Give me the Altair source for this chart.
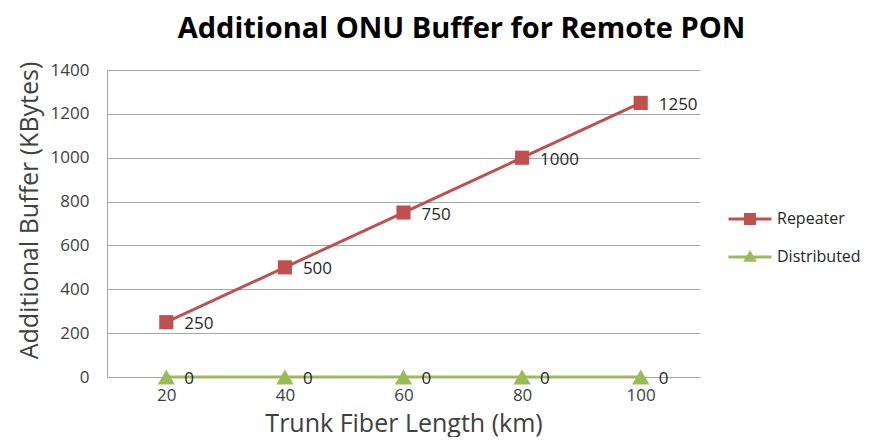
import altair as alt
import pandas as pd

lengths = [20, 40, 60, 80, 100]
repeater = [250, 500, 750, 1000, 1250]
distributed = [0, 0, 0, 0, 0]
series_names = ["Repeater", "Distributed"]
colors = ["#C0504D", "#9BBB59"]

rows = []
for L, v in zip(lengths, repeater):
    rows.append({"Length": L, "Buffer": v, "Series": "Repeater"})
for L, v in zip(lengths, distributed):
    rows.append({"Length": L, "Buffer": v, "Series": "Distributed"})
df = pd.DataFrame(rows)

FONT = "Open Sans"
x = alt.X("Length:O", sort=lengths,
          scale=alt.Scale(paddingInner=0, paddingOuter=0.5),
          axis=alt.Axis(title="Trunk Fiber Length (km)", labelAngle=0, ticks=False,
                        labelPadding=10, titlePadding=8, grid=False,
                        domainColor="#A6A6A6", labelFontSize=17, titleFontSize=25,
                        labelColor="#404040", titleColor="#404040",
                        labelFont=FONT, titleFont=FONT, titleFontWeight="normal"))
y = alt.Y("Buffer:Q", scale=alt.Scale(domain=[0, 1400], nice=False),
          axis=alt.Axis(title="Additional Buffer (KBytes)", values=list(range(0, 1401, 200)),
                        format="d", ticks=False, labelPadding=18, titlePadding=8, titleY=140,
                        gridColor="#A6A6A6", domainColor="#A6A6A6",
                        labelFontSize=17, titleFontSize=25,
                        labelColor="#404040", titleColor="#404040",
                        labelFont=FONT, titleFont=FONT, titleFontWeight="normal"))
color_nolegend = alt.Color("Series:N", scale=alt.Scale(domain=series_names, range=colors), legend=None)

base = alt.Chart(df).encode(x=x, y=y)

lines = base.mark_line(strokeWidth=3).encode(color=color_nolegend, detail="Series:N")
points = base.mark_point(filled=True, opacity=1).encode(
    color=color_nolegend,
    shape=alt.Shape("Series:N", scale=alt.Scale(domain=series_names, range=["square", "triangle-up"]), legend=None),
    size=alt.Size("Series:N", scale=alt.Scale(domain=series_names, range=[200, 300]), legend=None),
)
labels = base.mark_text(align="left", baseline="middle", dx=18, dy=2, fontSize=17,
                        font=FONT, color="#262626").encode(text="Buffer:Q")

sq_path = "M-1,-0.07 L1,-0.07 L1,0.07 L-1,0.07 Z M-0.28,-0.28 L0.28,-0.28 L0.28,0.28 L-0.28,0.28 Z"
tri_path = "M-1,-0.07 L1,-0.07 L1,0.07 L-1,0.07 Z M0,-0.32 L0.32,0.22 L-0.32,0.22 Z"
legend_layer = base.mark_point(filled=True, size=0, opacity=1).encode(
    color=alt.Color("Series:N", scale=alt.Scale(domain=series_names, range=colors),
                    legend=alt.Legend(title=None, orient="none", legendX=621, legendY=127,
                                      symbolSize=1850, symbolOpacity=1, symbolStrokeWidth=0,
                                      labelFontSize=16, labelFont=FONT, labelColor="#262626",
                                      rowPadding=8, labelOffset=5)),
    shape=alt.Shape("Series:N", scale=alt.Scale(domain=series_names, range=[sq_path, tri_path])),
)

chart = alt.layer(lines, points, labels, legend_layer).resolve_scale(
    color="independent", shape="independent"
).properties(
    width=593, height=307,
    title=alt.Title("Additional ONU Buffer for Remote PON", fontSize=29, font=FONT,
                    fontWeight="bold", color="#000000", anchor="middle", dx=58, offset=17),
    autosize=alt.AutoSizeParams(type="none"),
    padding={"left": 99, "top": 62, "right": 165, "bottom": 60},
).configure_view(stroke=None).configure_axis(labelFontWeight="normal")

chart.save("out.html", embed_options={"renderer": "svg", "actions": False})
